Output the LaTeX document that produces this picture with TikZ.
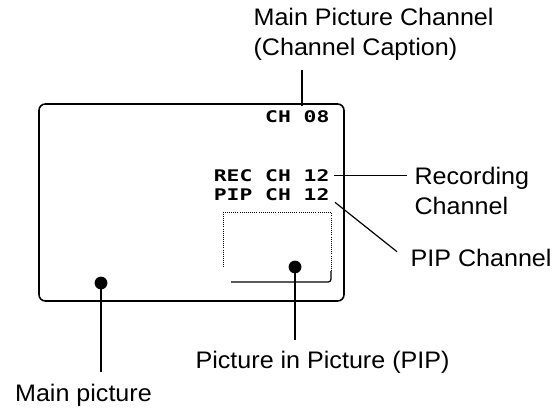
\documentclass[tikz,border=0pt]{standalone}
\usepackage{fontspec}
\setmainfont{Liberation Sans}[FakeStretch=1.05]
\newfontfamily\osdfont{DejaVu Sans Mono}[FakeStretch=1.33]
\tikzset{
    lbl/.style={font=\fontsize{17}{21.3}\selectfont, inner sep=0pt, anchor=base west, align=left},
    osd/.style={font=\osdfont\bfseries\fontsize{11.4}{13}\selectfont, inner sep=0pt, anchor=base east},
    spot/.style={circle, fill, inner sep=0pt, minimum size=3.2mm}
}
\begin{document}
\begin{tikzpicture}[x=0.025cm, y=-0.025cm, line width=0.85pt]
    \useasboundingbox (0,0) rectangle (560,408);
    % Màn hình
    \draw[line width=1.1pt, rounded corners=4.5pt] (39,104) rectangle (344,301);
    
    % Khung PIP
    \draw[densely dotted, line width=0.5pt] (331,271) -- (331,212) -- (223,212) -- (223,268);
    \draw[rounded corners=2pt] (231,282) -- (331,282) -- (331,271);
    
    % Chữ trên màn hình
    \node[osd] (ch) at (330,122) {CH 08};
    \node[osd] (rec) at (330,181) {REC CH 12};
    \node[osd] (pip) at (330,200.5) {PIP CH 12};
    
    % Các điểm
    \node[spot] (maindot) at (101,283) {};
    \node[spot] (pipdot) at (295,267) {};
    
    % Chú thích (mốc: dòng cuối)
    \node[lbl] (title) at (253,55.5) {Main Picture Channel\\(Channel Caption)};
    \node[lbl] (reclbl) at (414,214.5) {Recording\\Channel};
    \node[lbl] (piplbl) at (410,266.5) {PIP Channel};
    \node[lbl] (pipname) at (195,368) {Picture in Picture (PIP)};
    \node[lbl] (mainlbl) at (14.5,401) {Main picture};
    
    % Đường chỉ
    \coordinate (captop) at (302,70);
    \coordinate (pipend) at (397,251.7);
    \draw (captop) -- ++(0,36);
    \draw ([xshift=1mm]rec.east) -- ++(73,0);
    \draw (pip.south east) ++(5,1) -- (pipend);
    \draw (pipdot.center) -- ++(0,73);
    \draw (maindot.center) -- ++(0,89);
\end{tikzpicture}
\end{document}
